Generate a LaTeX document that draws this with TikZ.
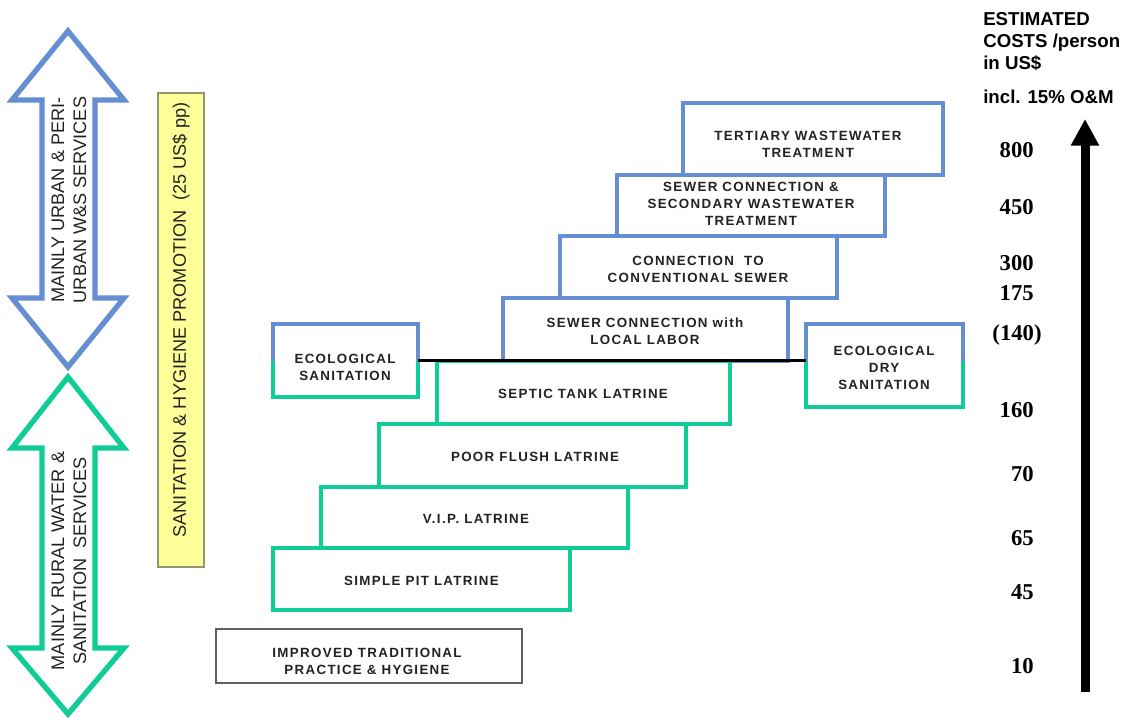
\documentclass[tikz,border=0pt]{standalone}
\usepackage{fontspec}
\setmainfont{Liberation Sans}
\newfontfamily\boxfont[LetterSpace=10]{Liberation Sans}
\newfontfamily\numfont{Liberation Serif}
\usetikzlibrary{arrows.meta}
\definecolor{stepblue}{RGB}{102,142,210}
\definecolor{stepgreen}{RGB}{16,204,150}
\definecolor{promofill}{RGB}{255,255,153}
\definecolor{promoedge}{RGB}{150,150,110}
\definecolor{inktext}{RGB}{34,34,34}
\begin{document}
\begin{tikzpicture}[x=0.75pt,y=-0.75pt,
  wh/.style 2 args={minimum width=#1*0.75pt, minimum height=#2*0.75pt},
  stepbox/.style={draw, fill=white, line width=3.2pt, line join=miter, inner sep=0pt, outer sep=0pt},
  gstep/.style={stepbox, draw=stepgreen},
  bstep/.style={stepbox, draw=stepblue},
  steplabel/.style={inner sep=0pt, align=center, text=inktext,
    font=\boxfont\bfseries\fontsize{10}{12.75}\selectfont},
  bigarrow/.style={line width=4pt, line join=miter},
  sidetext/.style={rotate=90, align=center, text=inktext, font=\fontsize{13.6}{16.5}\selectfont},
  num/.style={anchor=east, inner sep=0pt, font=\numfont\bfseries\fontsize{17}{20}\selectfont},
  costhead/.style={anchor=west, inner sep=0pt, align=left, font=\bfseries\fontsize{14}{16.5}\selectfont}
]
\useasboundingbox (0,0) rectangle (1127,720);

% service range double arrows
\draw[bigarrow, stepblue] (68,31) -- (124,100) -- (95,100) -- (95,298) -- (124,298)
  -- (68,367) -- (12,298) -- (42,298) -- (42,100) -- (12,100) -- cycle;
\draw[bigarrow, stepgreen] (68,377) -- (124,448) -- (95,448) -- (95,648) -- (124,648)
  -- (68,714) -- (12,648) -- (42,648) -- (42,448) -- (12,448) -- cycle;
\node[sidetext] (urban) at (69,200) {MAINLY URBAN \& PERI-\\URBAN W\&S SERVICES};
\node[sidetext] (rural) at (69,561) {MAINLY RURAL WATER \&\\SANITATION\ \ SERVICES};

% promotion bar
\node[draw=promoedge, fill=promofill, line width=1pt, wh={46}{474}, inner sep=0pt] (promo) at (181,330) {};
\node[sidetext] (promotext) at (181,320) {SANITATION \& HYGIENE PROMOTION\ \ (25 US\$ pp)};

% baseline practice
\node[stepbox, draw=gray!75!black, line width=1.2pt, wh={306}{54}] (trad) at (369,656) {};
\node[steplabel] (tradtext) at (367,661) {IMPROVED TRADITIONAL\\PRACTICE \& HYGIENE};

% upper (blue) steps
\node[bstep, wh={260}{72}] (tert) at (813,139) {};
\node[bstep, wh={268}{61}] (second) at (751,205.5) {};
\node[bstep, wh={277}{62}] (conv) at (698.5,267) {};
\node[bstep, wh={285}{63}] (local) at (645.5,329.5) {};
\node[steplabel] (terttext) at (808,144) {TERTIARY WASTEWATER\\TREATMENT};
\node[steplabel] (secondtext) at (751,204) {SEWER CONNECTION \&\\SECONDARY WASTEWATER\\TREATMENT};
\node[steplabel] (convtext) at (698,269) {CONNECTION\ \ TO\\CONVENTIONAL SEWER};
\node[steplabel] (localtext) at (645,331.5) {SEWER CONNECTION with\\LOCAL LABOR};

% lower (green) steps
\node[gstep, wh={293}{63}] (septic) at (583.5,392.5) {};
\node[gstep, wh={307}{63}] (flush) at (532.5,455.5) {};
\node[gstep, wh={307}{61}] (vip) at (474.5,517.5) {};
\node[gstep, wh={297}{62}] (pit) at (421.5,579) {};
\node[steplabel] (septictext) at (583,394) {SEPTIC TANK LATRINE};
\node[steplabel] (flushtext) at (535,456.5) {POOR FLUSH LATRINE};
\node[steplabel] (viptext) at (476,519) {V.I.P. LATRINE};
\node[steplabel] (pittext) at (421.5,581) {SIMPLE PIT LATRINE};

% ecological options, blue above the divide and green below
\node[gstep, wh={145}{73}] (eco) at (345.5,360.5) {};
\node[gstep, wh={157}{83}] (dry) at (884.5,365.5) {};
\draw[stepblue, line width=3.2pt, line join=miter] (eco.west) |- (eco.north) -| (eco.east);
\draw[stepblue, line width=3.2pt, line join=miter] (dry.west |- eco.east) |- (dry.north) -| (dry.east |- eco.east);
\node[steplabel] (ecotext) at (345,367) {ECOLOGICAL\\SANITATION};
\node[steplabel] (drytext) at (884,367.5) {ECOLOGICAL\\DRY\\SANITATION};

% divide between urban and rural options
\draw[line width=2.4pt] (eco.east) -- (eco.east -| dry.west);

% cost heading
\node[costhead] (esthead) at (983,42) {ESTIMATED\\COSTS /person\\in US\$};
\node[costhead] (incl) at (983,97) {incl. 15\% O\&M};

% cost axis
\coordinate (axisbot) at (1085,692);
\coordinate (axistop) at (1085,119);
\draw[line width=6.75pt, -{Triangle[width=20pt,length=20pt]}] (axisbot) -- (axistop);

% cost values
\node[num] (c800) at (1034,150) {800};
\node[num] (c450) at (1034,207) {450};
\node[num] (c300) at (1034,263) {300};
\node[num] (c175) at (1034,293) {175};
\node[num, anchor=center] (c140) at (1017,335) {(140)};
\node[num] (c160) at (1034,410) {160};
\node[num] (c70) at (1034,474) {70};
\node[num] (c65) at (1034,538) {65};
\node[num] (c45) at (1034,592) {45};
\node[num] (c10) at (1034,666) {10};
\end{tikzpicture}
\end{document}
